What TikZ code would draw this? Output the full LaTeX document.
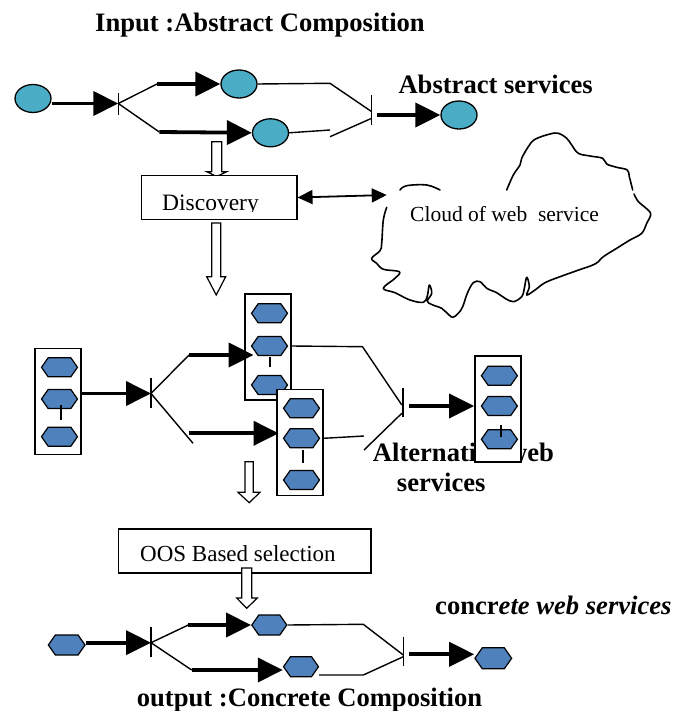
\documentclass[tikz,border=0pt]{standalone}
\usepackage{fontspec}
\setmainfont{Liberation Serif}
\usetikzlibrary{arrows.meta,shapes.geometric,shapes.symbols}
\definecolor{aquaE}{HTML}{4BACC6}
\definecolor{hexB}{HTML}{4F81BD}
\begin{document}
\begin{tikzpicture}[x=1pt,y=-1pt,
  thinl/.style={line width=1.4pt},
  flow/.style={line width=3.8pt,-{Triangle[length=25pt,width=24pt]}},
  ell/.style={ellipse,draw,line width=1.3pt,fill=aquaE,minimum width=36pt,minimum height=28pt,inner sep=0pt},
  hexa/.style={signal,signal to=east and west,signal pointer angle=110,draw,line width=1.2pt,fill=hexB,minimum width=36pt,minimum height=19pt,inner sep=0pt},
  colbox/.style={draw,line width=1.5pt,fill=white,minimum width=46pt,minimum height=106pt,inner sep=0pt},
  barl/.style={line width=1.3pt},
  lbl/.style={inner sep=0pt,anchor=base west,font=\fontsize{26.6}{30}\selectfont\bfseries},
  txt/.style={inner sep=0pt,anchor=base west,font=\fontsize{23.5}{28}\selectfont},
  harrow/.style={draw,line width=1.2pt,fill=white},
  boxs/.style={draw,line width=1.5pt,fill=white,inner sep=0pt}
]
\useasboundingbox (0,0) rectangle (685,711);

% ---------- texts ----------
\node[lbl] (title) at (95,31.7) {Input :Abstract Composition};
\node[lbl] (abs) at (398.3,93.3) {Abstract services};
\node[lbl] (alt1) at (372.7,461.7) {Alternative web};
\node[lbl] (alt2) at (396.7,491.7) {services};
\node[lbl] (conc) at (435,614) {concr\itshape ete web services};
\node[lbl] (outp) at (136.7,706.7) {output :Concrete Composition};

% ---------- top: abstract composition ----------
\node[ell] (e1) at (33,98.5) {};
\node[ell] (e2) at (239,84) {};
\node[ell] (e3) at (270.5,132.8) {};
\node[ell] (e4) at (459,115) {};
\coordinate (j1) at (118.3,103.5);
\coordinate (tue) at (157,84);
\coordinate (tle) at (159.3,132);
\coordinate (tur) at (330,83.3);
\coordinate (tlr) at (330,130);
\coordinate (tlr2) at (330,136.7);
\coordinate (j4u) at (371.7,111.7);
\coordinate (j4l) at (371.7,118.3);
\coordinate (j4o) at (377,115);
\draw[barl] (118.3,93.3) -- (118.3,115);
\draw[barl] (371.3,95) -- (371.3,125);
\draw[flow] (e1.east |- j1) -- (j1);
\draw[thinl] (j1) -- (tue);
\draw[thinl] (j1) -- (tle);
\draw[flow] (tue) -- (e2.west);
\draw[flow] (tle) -- (e3.west);
\draw[thinl] (e2.east) -- (tur) -- (j4u);
\draw[thinl] (e3.east) -- (tlr);
\draw[thinl] (tlr2) -- (j4l);
\draw[flow] (j4o) -- (e4.west);

% ---------- hollow arrow to discovery ----------
\draw[harrow] (211.7,141.7) -- (221.7,141.7) -- (221.7,171.7) -- (226.7,171.7) -- (216.7,176.5) -- (206.7,171.7) -- (211.7,171.7) -- cycle;

% ---------- discovery ----------
\node[boxs,minimum width=155.4pt,minimum height=44pt] (disc) at (219.1,197.5) {};
\begin{scope}
\clip (140,170) rectangle (300,211.6);
\node[txt] (disct) at (162,211) {Discovery};
\end{scope}
\draw[harrow] (211.7,223) -- (220.7,223) -- (220.7,276.7) -- (225.7,276.7) -- (216.2,295) -- (206.7,276.7) -- (211.7,276.7) -- cycle;

% ---------- cloud ----------
\coordinate (cloudin) at (386.7,195);
\draw[line width=1.8pt,{Triangle[length=15pt,width=14pt]}-{Triangle[length=15pt,width=14pt]}] (disc.east) -- (cloudin);
\begin{scope}[line width=1.6pt,line cap=round,line join=round]
\draw plot[smooth,tension=0.6] coordinates {(400,190) (406.7,185.7) (426.7,185) (440,190)};
\draw plot[smooth,tension=0.6] coordinates {(386.7,207.3) (383.3,220) (381.7,243.3) (380,250.7) (371.7,258.3) (376.7,263.3) (383.3,269.3) (399.3,271.7) (395,278.3) (383.3,288.3) (395,292.7) (410,300) (423.3,302.3) (427.3,296) (429.3,285) (431.7,293.3) (427.3,301) (431.7,304.5) (441.7,308.3) (446.7,312.7) (452.7,317.3) (458.3,313.3) (462.7,306.7) (467.3,293.3) (473.3,282.7) (480,281.7) (486.7,288.3) (496.7,292.7) (505,298.3) (513.3,301.7) (521.7,296.7) (524,290) (526.7,277.3) (529.3,286.7) (526.7,295) (535,290) (545,282.7) (560,276.7) (576.7,270.7) (595,264) (603.3,256.7) (616.7,248.3) (630,240) (641.7,233.3) (646.7,223.3) (650.7,214) (645,207.3) (638.3,201.7) (634,194)};
\draw plot[smooth,tension=0.6] coordinates {(632.7,190) (629.3,176.7) (627.3,170) (616.7,167.3) (606.7,164) (602.7,158.3) (590,156) (578.3,153.3) (571.7,145) (566.7,138.3) (558.3,133.3) (550,134) (535,139.3) (528.3,146.7) (521.7,158.3) (520,165) (513.3,175) (506.7,190)};
\end{scope}
\node[txt,font=\fontsize{21.5}{26}\selectfont] (cloudt) at (410,221.7) {Cloud of web~ service};

% ---------- middle: alternative services ----------
\node[colbox] (c1) at (58,401.7) {};
\node[hexa] (h11) at (59.5,367.3) {};
\node[hexa] (h12) at (59.5,399) {};
\node[hexa] (h13) at (59.5,436.7) {};
\draw[barl] (61,405) -- (61,420);

\node[colbox] (c2) at (267.8,347) {};
\node[hexa] (h21) at (269.5,313.3) {};
\node[hexa] (h22) at (269.5,346) {};
\node[hexa] (h23) at (269.5,385) {};
\draw[barl] (270,356.7) -- (270,366.7);

\node[colbox] (c3) at (299.9,442.7) {};
\node[hexa] (h31) at (301.5,408.3) {};
\node[hexa] (h32) at (301.5,438.3) {};
\node[hexa] (h33) at (301.5,480) {};
\draw[barl] (303,450) -- (303,462.7);

\node[colbox,minimum height=105.7pt] (c4) at (497.9,408.9) {};
\node[hexa] (h41) at (499.4,375.7) {};
\node[hexa] (h42) at (499.4,406) {};
\node[hexa] (h43) at (499.4,439.3) {};
\draw[barl] (501,425) -- (501,436.7);

\coordinate (j2) at (151,393.5);
\coordinate (mue) at (189,355);
\coordinate (mle) at (193,443.3);
\coordinate (mls) at (189,433.3);
\coordinate (mur) at (362.5,346.7);
\coordinate (j3u) at (401.8,405);
\coordinate (mlr) at (364,436);
\coordinate (mlr2) at (364,450);
\coordinate (j3l) at (401.8,413.3);
\coordinate (j3o) at (409,406);
\draw[barl] (151,378.3) -- (151,408.3);
\draw[barl] (403,388.3) -- (403,417.3);
\draw[flow] (c1.east |- j2) -- (j2);
\draw[thinl] (j2) -- (mue);
\draw[thinl] (j2) -- (mle);
\draw[flow] (mue) -- (253.6,355);
\draw[flow] (mls) -- (278.6,433.3);
\draw[thinl] (c2.east |- h22) -- (mur) -- (j3u);
\draw[thinl] (c3.east |- h32) -- (mlr);
\draw[thinl] (mlr2) -- (j3l);
\draw[flow] (j3o) -- (c4.west |- j3o);

% ---------- hollow arrow to selection ----------
\draw[harrow] (245,461.7) -- (253.3,461.7) -- (253.3,492.3) -- (260,492.3) -- (249.2,502.7) -- (238,492.3) -- (245,492.3) -- cycle;

% ---------- QoS selection ----------
\node[boxs,minimum width=252.7pt,minimum height=43.7pt] (oos) at (244.7,550.9) {};
\node[txt,font=\fontsize{23}{28}\selectfont] (oost) at (140,561.7) {OOS Based selection};
\draw[harrow] (241.7,568) -- (251.7,568) -- (251.7,598) -- (257.3,598) -- (246.7,608.3) -- (236.7,598) -- (241.7,598) -- cycle;

% ---------- bottom: concrete composition ----------
\node[hexa,minimum width=36.7pt,minimum height=20pt] (b1) at (66.7,645) {};
\node[hexa,minimum width=35pt,minimum height=20pt] (b2) at (269.3,625) {};
\node[hexa,minimum width=35pt,minimum height=20pt] (b3) at (301,666.7) {};
\node[hexa,minimum width=36.7pt,minimum height=21pt] (b4) at (493.3,658.3) {};
\coordinate (k1) at (151,642.7);
\coordinate (bue) at (188.3,625);
\coordinate (ble) at (191.7,670);
\coordinate (bur) at (363.3,624.3);
\coordinate (k2u) at (403.3,655);
\coordinate (blr) at (363.3,675);
\coordinate (k2l) at (403.3,656.7);
\coordinate (k2o) at (409.3,654.3);
\draw[barl] (151,626.7) -- (151,656.7);
\draw[barl] (403.3,636.7) -- (403.3,666);
\draw[flow] (b1.east |- k1) -- (k1);
\draw[thinl] (k1) -- (bue);
\draw[thinl] (k1) -- (ble);
\draw[flow] (bue) -- (b2.west);
\draw[flow] (ble) -- (b3.west |- ble);
\draw[thinl] (b2.east) -- (bur) -- (k2u);
\draw[thinl] (b3.east |- blr) -- (blr) -- (k2l);
\draw[flow] (k2o) -- (b4.west |- k2o);
\end{tikzpicture}
\end{document}
